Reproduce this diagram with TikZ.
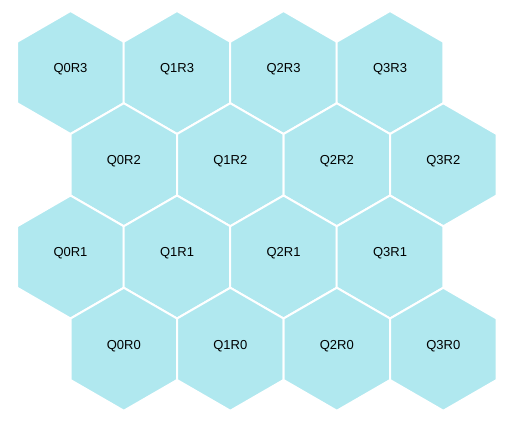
\documentclass[tikz,border=0pt]{standalone}
\usepackage{fontspec}
\setmainfont{Liberation Sans}
\definecolor{hexcyan}{RGB}{176,232,239}

\newcommand{\hexcell}[2]{%
  \draw[hex] (#1,#2) +(30:61.5) -- +(90:61.5) -- +(150:61.5)
    -- +(210:61.5) -- +(270:61.5) -- +(330:61.5) -- cycle;}

\begin{document}
\begin{tikzpicture}[
    x=1pt, y=-1pt,
    hex/.style={
        fill=hexcyan,
        draw=white,
        line width=2pt,
        line join=miter
    },
    lbl/.style={
        anchor=base,
        inner sep=0pt,
        font=\fontsize{13}{15}\selectfont
    }
]
\useasboundingbox (0,0) rectangle (519,427);

% ============================================================
% Row R3
% ============================================================

\foreach \q in {0,...,3} {
    \pgfmathsetmacro{\cx}{70.5+106.5*\q}
    \hexcell{\cx}{72.5}
    \node[lbl] (q\q-r3) at (\cx,72.5) {Q\q R3};
}

% ============================================================
% Row R2
% ============================================================

\foreach \q in {0,...,3} {
    \pgfmathsetmacro{\cx}{123.8+106.5*\q}
    \hexcell{\cx}{164.75}
    \node[lbl] (q\q-r2) at (\cx,164.75) {Q\q R2};
}

% ============================================================
% Row R1
% ============================================================

\foreach \q in {0,...,3} {
    \pgfmathsetmacro{\cx}{70.5+106.5*\q}
    \hexcell{\cx}{257}
    \node[lbl] (q\q-r1) at (\cx,257) {Q\q R1};
}

% ============================================================
% Row R0
% ============================================================

\foreach \q in {0,...,3} {
    \pgfmathsetmacro{\cx}{123.8+106.5*\q}
    \hexcell{\cx}{349.25}
    \node[lbl] (q\q-r0) at (\cx,349.25) {Q\q R0};
}

\end{tikzpicture}
\end{document}
